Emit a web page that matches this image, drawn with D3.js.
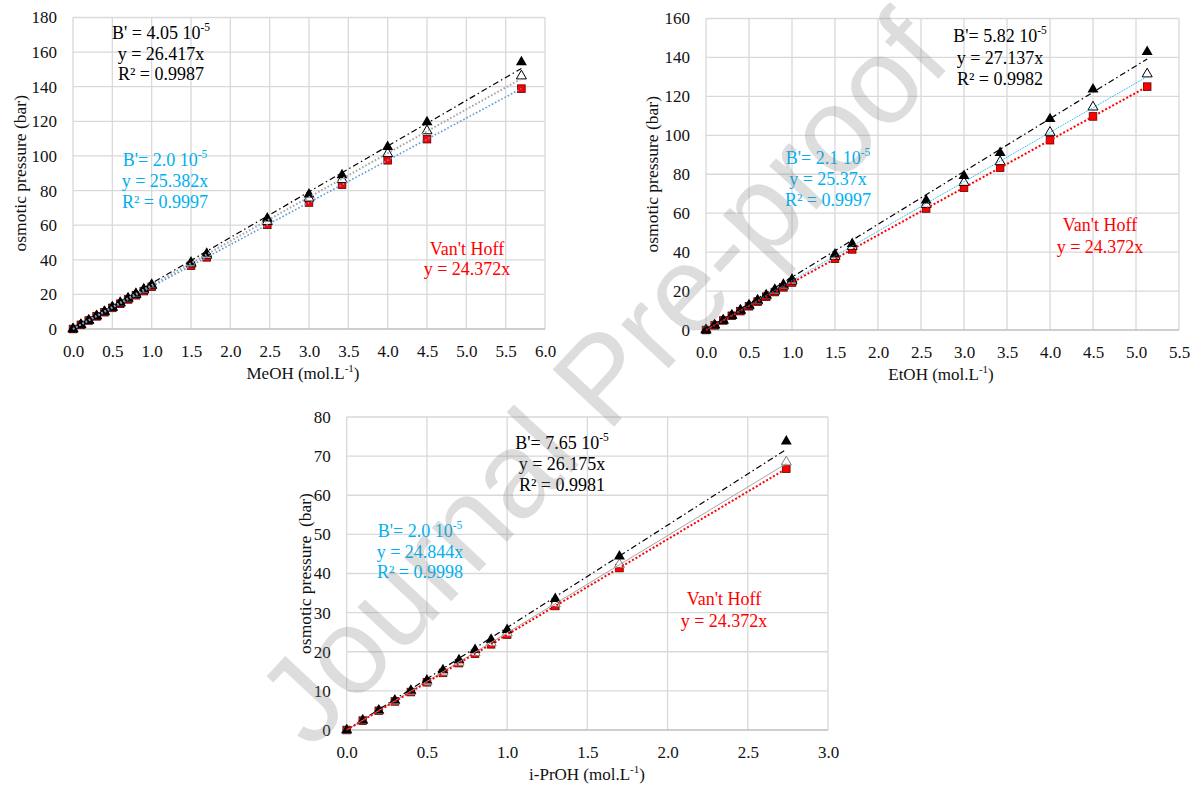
<!DOCTYPE html>
<html><head><meta charset="utf-8">
<script src="https://cdn.jsdelivr.net/npm/d3@7"></script>
<style>
body{margin:0;background:#fff}
</style>
</head><body>
<svg id="c" width="1198" height="787"></svg>
<script>
// ---------- DATA ----------
// MeOH
const meohX    = [0,0.1,0.2,0.3,0.4,0.5,0.6,0.7,0.8,0.9,1.0,1.5,1.7,2.47,3.0,3.42,4.0,4.5,5.7];
const meohFull = [0,2.5,5.0,7.6,10.1,12.7,15.2,17.8,20.4,23.0,25.6,38.5,43.6,63.9,77.8,88.9,105.3,119.6,154.3];
const meohLow  = [0,2.45,4.9,7.4,9.9,12.4,14.9,17.4,19.9,22.5,25.0,37.6,42.6,62.1,75.6,86.3,101.3,114.5,146.2];
const meohVH   = [0,2.4,4.9,7.3,9.7,12.2,14.6,17.1,19.5,21.9,24.4,36.6,41.4,60.2,73.1,83.4,97.5,109.7,138.9];
// EtOH
const etohX    = [0,0.1,0.2,0.3,0.4,0.5,0.6,0.7,0.8,0.9,1.0,1.5,1.7,2.56,3.0,3.42,4.0,4.5,5.13];
const etohFull = [0,2.5,5.0,7.6,10.2,12.8,15.4,18.0,20.7,23.3,26.0,38.9,44.2,66.6,79.2,91.0,108.4,123.6,142.9];
const etohLow  = [0,2.45,4.9,7.4,9.9,12.4,14.9,17.5,20.0,22.6,25.1,37.8,42.9,64.5,75.8,86.4,101.5,114.5,131.5];
const etohVH   = [0,2.4,4.9,7.3,9.7,12.2,14.6,17.1,19.5,21.9,24.4,36.6,41.4,62.4,73.1,83.4,97.5,109.7,125.0];
// i-PrOH
const iproX    = [0,0.1,0.2,0.3,0.4,0.5,0.6,0.7,0.8,0.9,1.0,1.3,1.7,2.74];
const iproFull = [0,2.5,5.0,7.6,10.1,12.7,15.3,17.9,20.5,23.1,25.6,33.5,44.4,73.8];
const iproLow  = [0,2.45,4.9,7.4,9.9,12.3,14.8,17.3,19.8,22.3,24.8,32.3,42.3,68.5];
const iproVH   = [0,2.4,4.9,7.3,9.7,12.2,14.6,17.1,19.5,21.9,24.4,31.7,41.4,66.8];
// trend-line slopes [full B', B'=2e-5, Van't Hoff]
const meohSlopes = [26.417, 25.382, 24.372];
const etohSlopes = [27.137, 25.37, 24.372];
const iproSlopes = [26.175, 24.844, 24.372];
// axis ticks
const meohXTicks = [0,0.5,1,1.5,2,2.5,3,3.5,4,4.5,5,5.5,6];
const meohYTicks = [0,20,40,60,80,100,120,140,160,180];
const etohXTicks = [0,0.5,1,1.5,2,2.5,3,3.5,4,4.5,5,5.5];
const etohYTicks = [0,20,40,60,80,100,120,140,160];
const iproXTicks = [0,0.5,1,1.5,2,2.5,3];
const iproYTicks = [0,10,20,30,40,50,60,70,80];
// labels
const meohTitle = "MeOH", etohTitle = "EtOH", iproTitle = "i-PrOH";
const meohBlack = [["B' = 4.05 10","-5"],["y = 26.417x"],["R² = 0.9987"]];
const meohCyan  = [["B'= 2.0 10","-5"],["y = 25.382x"],["R² = 0.9997"]];
const etohBlack = [["B'= 5.82 10","-5"],["y = 27.137x"],["R² = 0.9982"]];
const etohCyan  = [["B'= 2.1 10","-5"],["y = 25.37x"],["R² = 0.9997"]];
const iproBlack = [["B'= 7.65 10","-5"],["y = 26.175x"],["R² = 0.9981"]];
const iproCyan  = [["B'= 2.0 10","-5"],["y = 24.844x"],["R² = 0.9998"]];
const vhLabel   = [["Van't Hoff"],["y = 24.372x"]];
const watermark = "Journal Pre-proof";

// ---------- FONTS ----------
const SERIF = '"Liberation Serif", "Times New Roman", Tinos, serif';
const SANS  = '"Liberation Sans", Arial, Arimo, sans-serif';

// ---------- DRAWING ----------
const svg = d3.select("#c").style("font-family", SERIF);
const CYAN = "#00B0F0", RED = "#FF0000";

function drawChart(s){
  const g = svg.append("g");
  const x = d3.scaleLinear().domain([0, s.xMax]).range([s.left, s.right]);
  const y = d3.scaleLinear().domain([0, s.yMax]).range([s.bottom, s.top]);
  // grid
  g.selectAll(".vg").data(s.xTicks).join("line")
    .attr("x1", d=>x(d)).attr("x2", d=>x(d)).attr("y1", s.top).attr("y2", s.bottom)
    .attr("stroke", "#d9d9d9").attr("stroke-width", 1.3);
  g.selectAll(".hg").data(s.yTicks.filter(d=>d>0)).join("line")
    .attr("x1", s.left).attr("x2", s.right).attr("y1", d=>y(d)).attr("y2", d=>y(d))
    .attr("stroke", "#d9d9d9").attr("stroke-width", 1.3);
  g.append("line").attr("x1", s.left).attr("x2", s.right).attr("y1", y(0)).attr("y2", y(0))
    .attr("stroke", "#bfbfbf").attr("stroke-width", 1.3);
  // axes
  const ax = g.append("g").attr("transform", `translate(0,${y(0)})`)
    .call(d3.axisBottom(x).tickValues(s.xTicks).tickFormat(d3.format(".1f")).tickSize(0).tickPadding(16));
  const ay = g.append("g").attr("transform", `translate(${s.left},0)`)
    .call(d3.axisLeft(y).tickValues(s.yTicks).tickFormat(d3.format("d")).tickSize(0).tickPadding(16));
  [ax, ay].forEach(a=>{
    a.attr("font-family", SERIF).attr("font-size", 17);
    a.select(".domain").remove();
    a.selectAll("text").attr("fill", "#111");
  });
  // axis titles
  const xt = g.append("text").attr("x", s.xTitleX).attr("y", s.bottom + 50)
    .attr("text-anchor", "middle").attr("font-size", 17).attr("fill", "#111");
  xt.append("tspan").text(s.title + " (mol.L");
  xt.append("tspan").text("-1").attr("font-size", 11).attr("dy", -7);
  xt.append("tspan").text(")").attr("font-size", 17).attr("dy", 7);
  g.append("text").attr("transform", `translate(${s.yTitleX},${(s.top+s.bottom)/2}) rotate(-90)`)
    .attr("text-anchor", "middle").attr("dominant-baseline", "central")
    .attr("font-size", 17.5).attr("fill", "#111").style("white-space", "pre")
    .text(s.yTitle);

  const pts = (ys)=> s.xs.map((d,i)=>[d, ys[i]]);
  const triFull = d3.symbol(d3.symbolTriangle, 52)();
  const triOpen = d3.symbol(d3.symbolTriangle, 44)();
  g.selectAll(".pv").data(pts(s.vh)).join("rect")
    .attr("x", d=>x(d[0])-3.8).attr("y", d=>y(d[1])-3.8).attr("width", 7.6).attr("height", 7.6)
    .attr("fill", RED).attr("stroke", "#5a0000").attr("stroke-width", 0.8);
  g.selectAll(".po").data(pts(s.low)).join("path").attr("d", triOpen)
    .attr("transform", d=>`translate(${x(d[0])},${y(d[1])})`)
    .attr("fill", "#fff").attr("stroke", s.openStroke).attr("stroke-width", 1);
  g.selectAll(".pf").data(pts(s.full)).join("path").attr("d", triFull)
    .attr("transform", d=>`translate(${x(d[0])},${y(d[1])})`).attr("fill", "#000");
  // trend lines
  const xEnd = s.xs[s.xs.length-1];
  const line = d3.line().x(d=>x(d[0])).y(d=>y(d[1]));
  s.slopes.forEach((k,i)=>{
    const st = s.lineStyles[i];
    g.append("path").attr("d", line([[0,0],[xEnd, k*xEnd]]))
      .attr("fill", "none").attr("stroke", st.c).attr("stroke-width", st.w)
      .attr("stroke-dasharray", st.d);
  });
  // annotations
  s.notes.forEach(n=>{
    n.lines.forEach((ln,i)=>{
      const t = g.append("text").attr("x", n.x).attr("y", n.y + i*n.gap)
        .attr("text-anchor", "middle").attr("font-size", 18).attr("fill", n.color);
      t.append("tspan").text(ln[0]);
      if (ln[1]) t.append("tspan").text(ln[1]).attr("font-size", 11.5).attr("dy", -8);
    });
  });
}

const dashDot = {c:"#000", w:1.2, d:"6,3,1.5,3"};

drawChart({
  left:73, right:545, top:17.5, bottom:329, xMax:6, yMax:180,
  xTicks:meohXTicks, yTicks:meohYTicks, title:meohTitle, xTitleX:303, yTitleX:20,
  yTitle:"osmotic pressure (bar)",
  xs:meohX, full:meohFull, low:meohLow, vh:meohVH, openStroke:"#000",
  slopes:meohSlopes,
  lineStyles:[dashDot, {c:"#a6a6a6", w:2, d:"1.6,2"}, {c:"#5B9BD5", w:1.6, d:"1.6,2"}],
  notes:[
    {lines:meohBlack, color:"#000", x:161, y:39, gap:20.5},
    {lines:meohCyan, color:CYAN, x:165, y:166, gap:20.8},
    {lines:vhLabel, color:RED, x:467, y:255, gap:19.5}
  ]
});
drawChart({
  left:706, right:1179, top:18.5, bottom:330, xMax:5.5, yMax:160,
  xTicks:etohXTicks, yTicks:etohYTicks, title:etohTitle, xTitleX:941, yTitleX:652,
  yTitle:"osmotic pressure (bar)",
  xs:etohX, full:etohFull, low:etohLow, vh:etohVH, openStroke:"#000",
  slopes:etohSlopes,
  lineStyles:[dashDot, {c:CYAN, w:1, d:"1,1"}, {c:RED, w:2, d:"2,2"}],
  notes:[
    {lines:etohBlack, color:"#000", x:1000, y:42, gap:21.5},
    {lines:etohCyan, color:CYAN, x:828, y:164, gap:21},
    {lines:vhLabel, color:RED, x:1100, y:231, gap:21.5}
  ]
});
drawChart({
  left:346.7, right:828, top:417, bottom:730, xMax:3, yMax:80,
  xTicks:iproXTicks, yTicks:iproYTicks, title:iproTitle, xTitleX:587, yTitleX:305,
  yTitle:"osmotic pressure  (bar)",
  xs:iproX, full:iproFull, low:iproLow, vh:iproVH, openStroke:"#7f7f7f",
  slopes:iproSlopes,
  lineStyles:[dashDot, {c:"#a6a6a6", w:1, d:null}, {c:RED, w:2, d:"2,2"}],
  notes:[
    {lines:iproBlack, color:"#000", x:562, y:449, gap:21},
    {lines:iproCyan, color:CYAN, x:420, y:537, gap:20.5},
    {lines:vhLabel, color:RED, x:724, y:605, gap:22}
  ]
});

// watermark (semi-transparent overlay)
svg.append("text").attr("transform", "translate(602,378) rotate(-47)")
  .attr("text-anchor", "middle").attr("dominant-baseline", "central")
  .attr("font-size", 122).attr("fill", "#808080").attr("opacity", 0.26)
  .style("font-family", SANS)
  .text(watermark);
</script>
</body></html>
